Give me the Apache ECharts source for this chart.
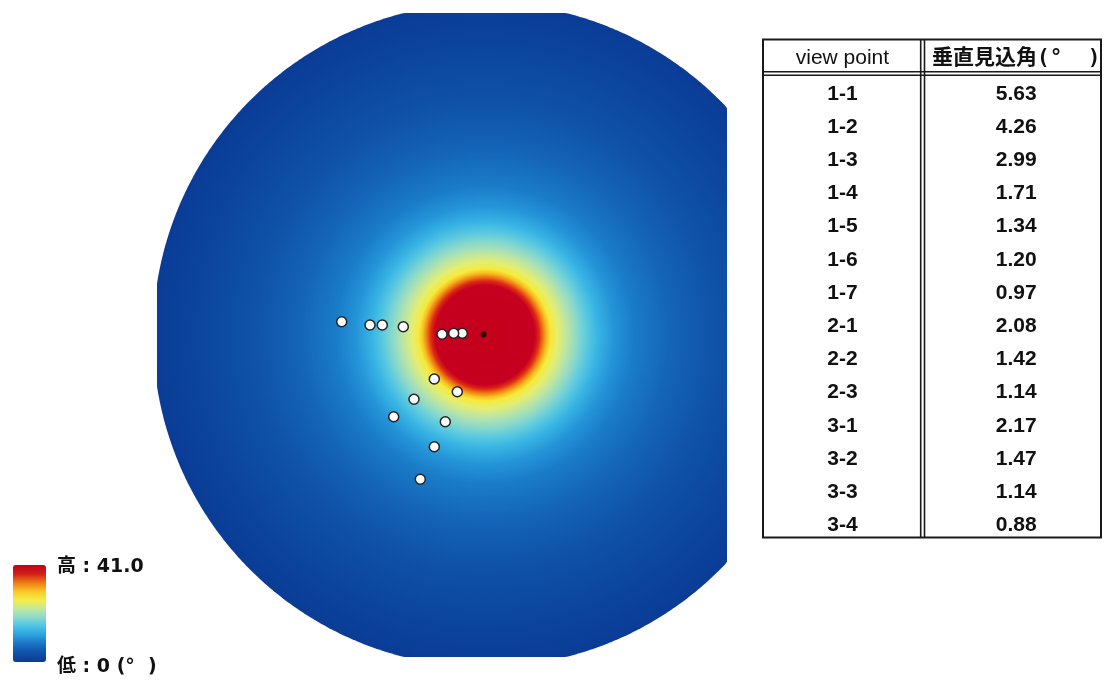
<!DOCTYPE html>
<html>
<head>
<meta charset="utf-8">
<script src="https://cdn.jsdelivr.net/npm/echarts@6/dist/echarts.min.js"></script>
<style>
html,body{margin:0;padding:0;background:#ffffff;}
#chart{width:1104px;height:683px;}
</style>
</head>
<body>
<div id="chart"></div>
<script>
// ---- data ----
const viewPoints = ['1-1','1-2','1-3','1-4','1-5','1-6','1-7','2-1','2-2','2-3','3-1','3-2','3-3','3-4'];
const verticalAngles = [5.63, 4.26, 2.99, 1.71, 1.34, 1.20, 0.97, 2.08, 1.42, 1.14, 2.17, 1.47, 1.14, 0.88];
// view point positions relative to the tower (map units, y up)
const pointX = [-22.7, -31.3, -43.0, -81.7, -102.7, -115.0, -143.3, -50.7, -71.0, -91.3, -27.7, -39.7, -50.7, -64.7];
const pointY = [1.7, 1.7, 0.7, 8.3, 10.0, 10.0, 13.3, -44.0, -64.3, -81.7, -56.7, -86.7, -111.7, -144.3];
const towerPosition = [-1.5, 0.5];
const fieldCenter = [0, 0];
const fieldRadius = 332;
const mapExtentX = [-328, 242];
const mapExtentY = [-322, 322];
const tableHeaders = ['view point', '垂直見込角(°  )'];
const legendRange = [0, 41.0];
const legendTexts = ['高 : 41.0', '低 : 0 (°  )'];

// ---- styles ----
const fieldStops = [
  [0.000, '#c4001c'], [0.150, '#c60020'], [0.163, '#dc2a14'], [0.175, '#f07814'],
  [0.187, '#f6c020'], [0.199, '#f6ea3c'], [0.220, '#e4ee70'], [0.250, '#b8e4a8'],
  [0.280, '#88d8cc'], [0.310, '#58c8e0'], [0.340, '#38b4e4'], [0.390, '#2494d8'],
  [0.450, '#1a7cc8'], [0.560, '#1464b8'], [0.700, '#0f52a8'], [0.850, '#0c469e'],
  [1.000, '#0a3c96']
].map(s => ({offset: s[0], color: s[1]}));
const legendColors = ['#0a3a92','#1150aa','#1a70c4','#2a9edc','#48c2e8','#88d8d0','#c0e8a0','#f4ee48','#f8c828','#ee7a14','#d02018','#c4001c'];
const CJK = "'Noto Sans CJK JP'";
const LEGEND_FONT = "bold 19px 'DejaVu Sans', " + CJK + ", sans-serif";
const BODY_FONT = "bold 21px 'Liberation Sans', 'Noto Sans', sans-serif";
const HEAD1_FONT = "21px 'Liberation Sans', 'Noto Sans', sans-serif";
const HEAD2_FONT = "bold 21px 'DejaVu Sans Mono', " + CJK + ", monospace";

const tableRows = [tableHeaders[0]].concat(viewPoints);

const chart = echarts.init(document.getElementById('chart'), null, {renderer: 'canvas'});

const option = {
  backgroundColor: '#ffffff',
  animation: false,
  grid: [
    {left: 157, top: 13, width: 570, height: 644, show: false},
    {left: 763, top: 44, width: 338, height: 498, show: false}
  ],
  xAxis: [
    {gridIndex: 0, type: 'value', min: mapExtentX[0], max: mapExtentX[1], show: false},
    {gridIndex: 1, type: 'value', min: 0, max: 1, show: false}
  ],
  yAxis: [
    {gridIndex: 0, type: 'value', min: mapExtentY[0], max: mapExtentY[1], show: false},
    {gridIndex: 1, type: 'category', data: tableRows, inverse: true, show: false}
  ],
  visualMap: {
    type: 'continuous',
    min: legendRange[0], max: legendRange[1],
    orient: 'vertical',
    left: -2, top: 550,
    itemWidth: 33, itemHeight: 97,
    calculable: false,
    seriesIndex: 3,
    inRange: {color: legendColors}
  },
  graphic: [
    {type: 'rect', shape: {x: 763, y: 39.5, width: 338, height: 498}, style: {fill: 'none', stroke: '#1a1a1a', lineWidth: 2}, z: 10},
    {type: 'line', shape: {x1: 920.7, y1: 39.5, x2: 920.7, y2: 537.5}, style: {stroke: '#1a1a1a', lineWidth: 1.6}, z: 10},
    {type: 'line', shape: {x1: 924.5, y1: 39.5, x2: 924.5, y2: 537.5}, style: {stroke: '#1a1a1a', lineWidth: 1.6}, z: 10},
    {type: 'line', shape: {x1: 763, y1: 71.7, x2: 1101, y2: 71.7}, style: {stroke: '#1a1a1a', lineWidth: 1.6}, z: 10},
    {type: 'line', shape: {x1: 763, y1: 75.2, x2: 1101, y2: 75.2}, style: {stroke: '#1a1a1a', lineWidth: 1.6}, z: 10},
    {type: 'text', x: 57, y: 567, style: {text: legendTexts[0], fill: '#111', font: LEGEND_FONT, textVerticalAlign: 'middle', verticalAlign: 'middle'}, z: 10},
    {type: 'text', x: 57, y: 667, style: {text: legendTexts[1], fill: '#111', font: LEGEND_FONT, textVerticalAlign: 'middle', verticalAlign: 'middle'}, z: 10}
  ],
  series: [
    {
      type: 'custom',
      xAxisIndex: 0, yAxisIndex: 0,
      data: [[fieldCenter[0], fieldCenter[1], fieldRadius]],
      encode: {x: 0, y: 1},
      silent: true,
      z: 1,
      renderItem: function (params, api) {
        const c = api.coord([api.value(0), api.value(1)]);
        const r = api.size([api.value(2), 0])[0];
        const cs = params.coordSys;
        const pts = [];
        for (let k = 0; k < 720; k++) {
          const a = k * Math.PI / 360;
          let px = c[0] + r * Math.cos(a), py = c[1] + r * Math.sin(a);
          px = Math.min(Math.max(px, cs.x), cs.x + cs.width);
          py = Math.min(Math.max(py, cs.y), cs.y + cs.height);
          pts.push([px, py]);
        }
        return {
          type: 'polygon',
          shape: {points: pts},
          style: {fill: {type: 'radial', x: c[0], y: c[1], r: r, global: true, colorStops: fieldStops}}
        };
      }
    },
    {
      type: 'scatter',
      xAxisIndex: 0, yAxisIndex: 0,
      data: pointX.map((x, i) => [x, pointY[i]]),
      symbol: 'circle',
      symbolSize: 10,
      itemStyle: {color: '#ffffff', borderColor: '#222222', borderWidth: 1.5, opacity: 1},
      z: 3
    },
    {
      type: 'scatter',
      xAxisIndex: 0, yAxisIndex: 0,
      data: [towerPosition],
      symbol: 'circle',
      symbolSize: 6,
      itemStyle: {color: '#2a0606', opacity: 1},
      z: 3
    },
    {
      type: 'scatter',
      xAxisIndex: 0, yAxisIndex: 0,
      data: []
    },
    {
      type: 'custom',
      xAxisIndex: 1, yAxisIndex: 1,
      data: tableRows.map((_, i) => [0.5, i]),
      encode: {x: 0, y: 1},
      z: 5,
      renderItem: function (params, api) {
        const i = api.value(1);
        const header = i === 0;
        const y = api.coord([0, i])[1] + (header ? -2 : 0);
        const x1 = api.coord([0.235, i])[0];
        const x2 = api.coord([0.749, i])[0];
        const t1 = header ? tableHeaders[0] : viewPoints[i - 1];
        const t2 = header ? tableHeaders[1] : verticalAngles[i - 1].toFixed(2);
        const mk = (t, x, font) => ({
          type: 'text', x: x, y: y,
          style: {text: t, fill: '#111', font: font,
                  textAlign: 'center', align: 'center', textVerticalAlign: 'middle', verticalAlign: 'middle'}
        });
        return {type: 'group', children: [
          mk(t1, x1, header ? HEAD1_FONT : BODY_FONT),
          mk(t2, x2, header ? HEAD2_FONT : BODY_FONT)
        ]};
      }
    }
  ]
};
chart.setOption(option);
</script>
</body>
</html>
